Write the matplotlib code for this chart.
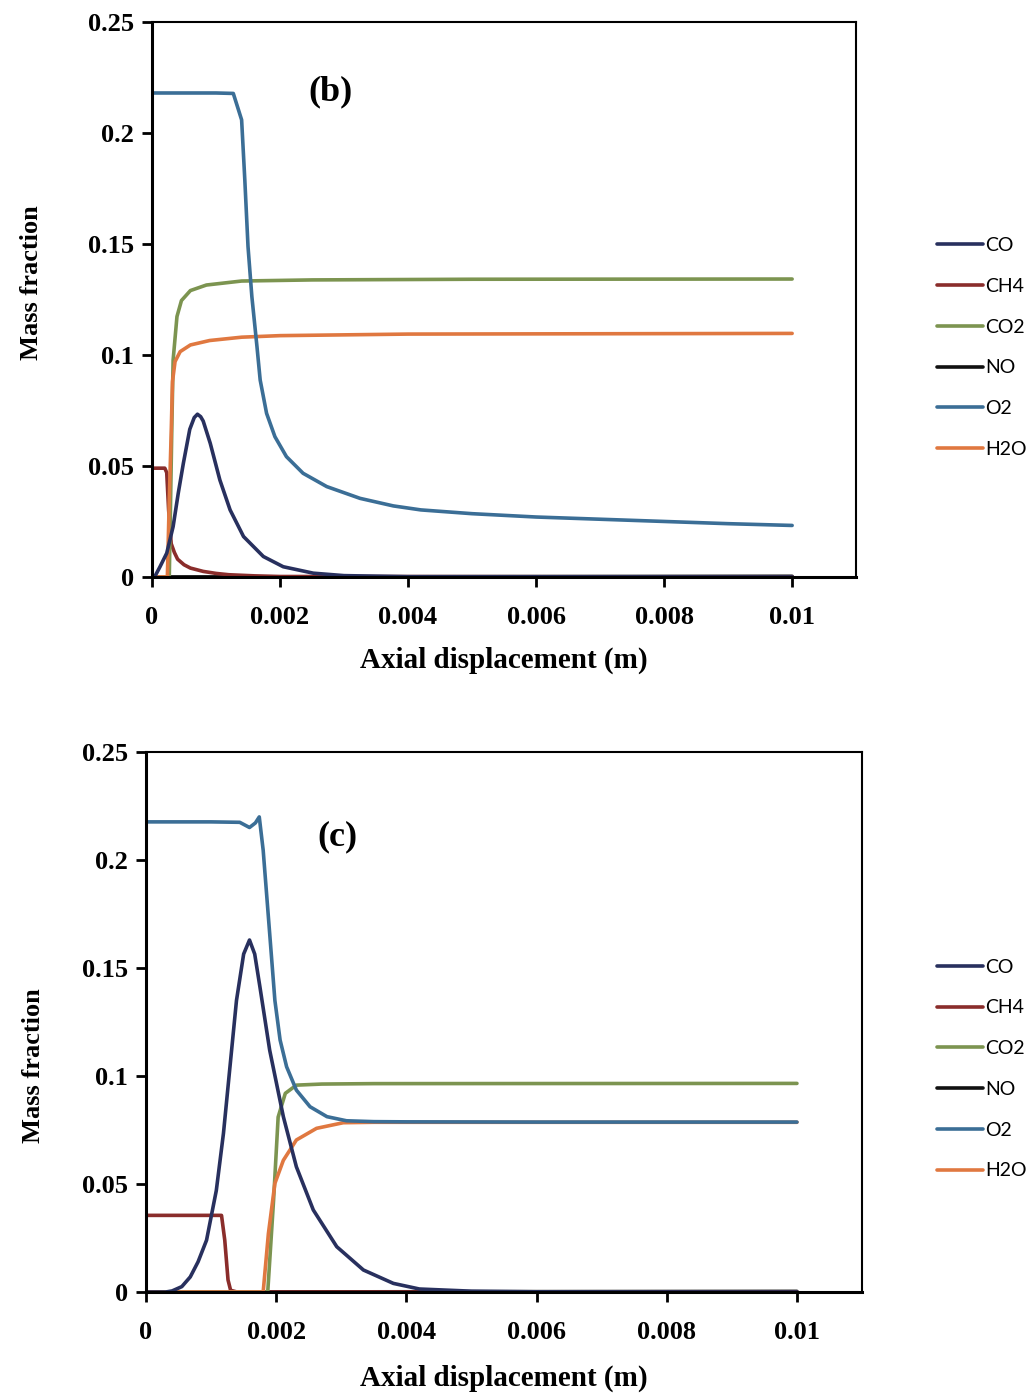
import numpy as np
import matplotlib
matplotlib.use("Agg")
import matplotlib.pyplot as plt

# ---- panel (b) ----
b_o2_x = [0, 0.0005, 0.001, 0.00127, 0.0014, 0.00145, 0.0015, 0.00156, 0.00164, 0.00169, 0.00179,
          0.00192, 0.0021, 0.00236, 0.00273, 0.00325, 0.00377, 0.0042, 0.005, 0.006, 0.007, 0.008,
          0.009, 0.01]
b_o2_y = [0.218, 0.218, 0.218, 0.2178, 0.2059, 0.1788, 0.1488, 0.1263, 0.1037, 0.0887, 0.0737,
          0.0632, 0.0542, 0.0467, 0.0407, 0.0354, 0.032, 0.0302, 0.0285, 0.027, 0.026, 0.025,
          0.024, 0.0232]
b_co2_x = [0, 0.00027, 0.00031, 0.00033, 0.00039, 0.00046, 0.0006, 0.00085, 0.0014, 0.0025, 0.005, 0.01]
b_co2_y = [0, 0, 0.0677, 0.0977, 0.1173, 0.1245, 0.129, 0.1315, 0.1333, 0.1338, 0.1341, 0.1342]
b_h2o_x = [0, 0.00024, 0.00027, 0.0003, 0.00032, 0.00036, 0.00044, 0.0006, 0.0009, 0.0014,
           0.002, 0.004, 0.01]
b_h2o_y = [0, 0, 0.035, 0.065, 0.088, 0.097, 0.1015, 0.1045, 0.1065, 0.108,
           0.1087, 0.1094, 0.1097]
b_ch4_x = [0, 0.0002, 0.00023, 0.00026, 0.0003, 0.00035, 0.0004, 0.0005, 0.0006, 0.0008, 0.001,
           0.0012, 0.0016, 0.002, 0.01]
b_ch4_y = [0.049, 0.049, 0.047, 0.03, 0.015, 0.011, 0.008, 0.0055, 0.004, 0.0025, 0.0016,
           0.001, 0.0005, 0.0002, 0]
b_co_x = [0, 0.00005, 0.000125, 0.00023, 0.00033, 0.00041, 0.00049, 0.00059, 0.00066, 0.00071, 0.00076,
          0.0008, 0.00091, 0.00106, 0.00122, 0.00143, 0.00174, 0.00205, 0.00252, 0.003, 0.004, 0.01]
b_co_y = [0, 0.0005, 0.0046, 0.0107, 0.0227, 0.0377, 0.0512, 0.0665, 0.0718, 0.0733, 0.0722,
          0.0702, 0.0602, 0.0437, 0.0302, 0.0182, 0.0092, 0.0046, 0.0017, 0.0006, 0.0001, 0]
b_no_x = [0, 0.01]
b_no_y = [0, 0.0003]

# ---- panel (c) ----
c_o2_x = [0, 0.0005, 0.001, 0.00144, 0.00159, 0.00168, 0.00174, 0.0018, 0.0019, 0.00198, 0.00206,
          0.00216, 0.00231, 0.00252, 0.00278, 0.00308, 0.0035, 0.004, 0.006, 0.008, 0.01]
c_o2_y = [0.2177, 0.2177, 0.2177, 0.2175, 0.2151, 0.2172, 0.22, 0.2046, 0.166, 0.135, 0.1167,
          0.1043, 0.0935, 0.0858, 0.0812, 0.0793, 0.0789, 0.0788, 0.0787, 0.0787, 0.0787]
c_co2_x = [0, 0.00187, 0.00196, 0.00203, 0.00214, 0.00231, 0.0027, 0.0035, 0.01]
c_co2_y = [0, 0, 0.0426, 0.081, 0.092, 0.0958, 0.0963, 0.0965, 0.0966]
c_h2o_x = [0, 0.0018, 0.00188, 0.00198, 0.00211, 0.00231, 0.00262, 0.00303, 0.0035, 0.01]
c_h2o_y = [0, 0, 0.027, 0.0503, 0.061, 0.0704, 0.0758, 0.0784, 0.0786, 0.0786]
c_ch4_x = [0, 0.00116, 0.00121, 0.00126, 0.0013, 0.0014, 0.01]
c_ch4_y = [0.0355, 0.0355, 0.024, 0.0056, 0.0008, 0, 0]
c_co_x = [0, 0.0003, 0.0004, 0.00055, 0.00068, 0.0008, 0.00093, 0.00108, 0.00119, 0.00129, 0.00139,
          0.0015, 0.00159, 0.00167, 0.00175, 0.0019, 0.00211, 0.00231, 0.00257, 0.00293, 0.00334,
          0.0038, 0.0042, 0.005, 0.006, 0.01]
c_co_y = [0, 0, 0.0005, 0.0025, 0.007, 0.014, 0.024, 0.047, 0.0735, 0.1043, 0.135,
          0.1565, 0.163, 0.1565, 0.1413, 0.112, 0.0812, 0.058, 0.038, 0.021, 0.0102,
          0.004, 0.0014, 0.0004, 0.0001, 0]
c_no_x = [0, 0.01]
c_no_y = [0, 0.0003]

species = ['CO', 'CH4', 'CO2', 'NO', 'O2', 'H2O']
colors = {'CO': '#28305e', 'CH4': '#8a2d2b', 'CO2': '#7c9450', 'NO': '#111111',
          'O2': '#3b6e96', 'H2O': '#e07840'}

x_ticks = [0, 0.002, 0.004, 0.006, 0.008, 0.01]
x_tick_labels = ['0', '0.002', '0.004', '0.006', '0.008', '0.01']
y_ticks = [0, 0.05, 0.1, 0.15, 0.2, 0.25]
y_tick_labels = ['0', '0.05', '0.1', '0.15', '0.2', '0.25']

panels = [
    ('(b)', {'CO': (b_co_x, b_co_y), 'CH4': (b_ch4_x, b_ch4_y), 'CO2': (b_co2_x, b_co2_y),
             'NO': (b_no_x, b_no_y), 'O2': (b_o2_x, b_o2_y), 'H2O': (b_h2o_x, b_h2o_y)}),
    ('(c)', {'CO': (c_co_x, c_co_y), 'CH4': (c_ch4_x, c_ch4_y), 'CO2': (c_co2_x, c_co2_y),
             'NO': (c_no_x, c_no_y), 'O2': (c_o2_x, c_o2_y), 'H2O': (c_h2o_x, c_h2o_y)}),
]

serif = 'Liberation Serif'
fig = plt.figure(figsize=(10.34, 13.98), dpi=100)
boxes = [[0.147, 0.5873, 0.681, 0.397], [0.1412, 0.0758, 0.6925, 0.3862]]
legend_y = [0.7514, 0.2353]
label_pos = [(0.253, 0.874), (0.268, 0.843)]
xlabel_y = [0.518, 0.004]
ylabel_pos = [(-0.155, 0.53), (-0.141, 0.42)]

for i, (tag, series) in enumerate(panels):
    ax = fig.add_axes(boxes[i])
    draw_order = ['NO', 'CH4', 'CO2', 'H2O', 'O2', 'CO']
    handles = {}
    for name in draw_order:
        xs, ys = series[name]
        ln, = ax.plot(xs, ys, color=colors[name], lw=2.6, label=name,
                      solid_joinstyle='round', solid_capstyle='round')
        handles[name] = ln
    ax.set_xlim(0, 0.011)
    ax.set_ylim(0, 0.25)
    ax.set_xticks(x_ticks)
    ax.set_xticklabels(x_tick_labels)
    ax.set_yticks(y_ticks)
    ax.set_yticklabels(y_tick_labels)
    ax.tick_params(direction='out', length=7, width=2, labelsize=19, pad=6)
    ax.tick_params(axis='x', pad=14)
    for lab in ax.get_xticklabels() + ax.get_yticklabels():
        lab.set_fontfamily(serif)
        lab.set_fontweight('bold')
    for s in ['left', 'bottom']:
        ax.spines[s].set_linewidth(2.2)
    for s in ['top', 'right']:
        ax.spines[s].set_linewidth(1.5)
    ax.text(label_pos[i][0], label_pos[i][1], tag, transform=ax.transAxes, ha='center', va='center',
            fontsize=26, fontweight='bold', family=serif)
    fig.text(0.487, xlabel_y[i], 'Axial displacement (m)', ha='center', va='bottom',
             fontsize=21, fontweight='bold', family=serif)
    ax.set_ylabel('Mass fraction', fontsize=19, fontweight='bold', family=serif)
    ax.yaxis.set_label_coords(*ylabel_pos[i])
    fig.legend([handles[n] for n in species], species, loc='center left',
               bbox_to_anchor=(0.889, legend_y[i]), frameon=False,
               prop={'family': 'Lato', 'size': 14}, handlelength=2.4,
               handletextpad=0.1, labelspacing=1.22)

fig.savefig('out.png', dpi=100)
